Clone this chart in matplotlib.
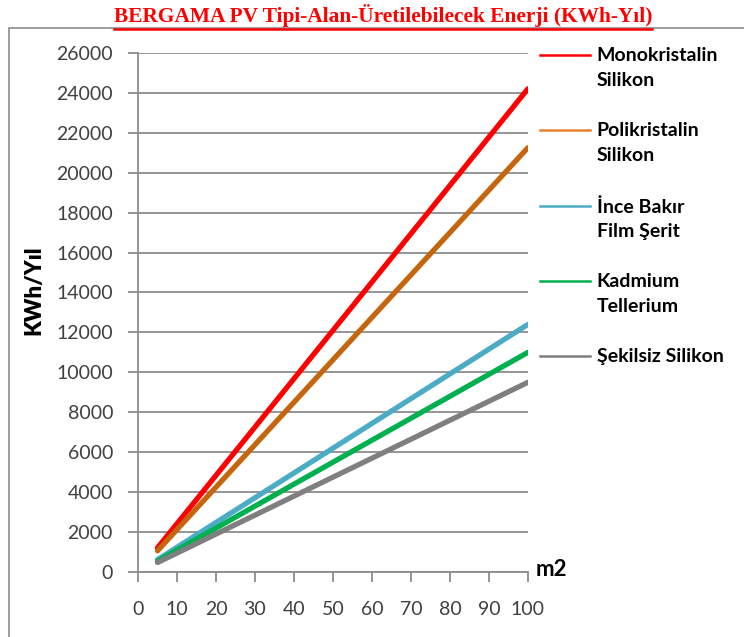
import matplotlib.pyplot as plt
from matplotlib.lines import Line2D
from matplotlib.patches import Rectangle

# alan (m2) ve panel tiplerine gore yillik enerji (KWh)
alan = [5, 10, 20, 30, 40, 50, 60, 70, 80, 90, 100]
monokristalin = [1210, 2420, 4840, 7260, 9680, 12100, 14520, 16940, 19360, 21780, 24200]
polikristalin = [1063, 2125, 4250, 6375, 8500, 10625, 12750, 14875, 17000, 19125, 21250]
ince_bakir = [620, 1240, 2480, 3720, 4960, 6200, 7440, 8680, 9920, 11160, 12400]
kadmium = [550, 1100, 2200, 3300, 4400, 5500, 6600, 7700, 8800, 9900, 11000]
sekilsiz = [475, 950, 1900, 2850, 3800, 4750, 5700, 6650, 7600, 8550, 9500]

seriler = [monokristalin, polikristalin, ince_bakir, kadmium, sekilsiz]
etiketler = ["Monokristalin\nSilikon", "Polikristalin\nSilikon", "İnce Bakır\nFilm Şerit",
             "Kadmium\nTellerium", "Şekilsiz Silikon"]
cizgi_renk = ["#ff0000", "#c5660e", "#4bacc6", "#00b050", "#7f7f7f"]
lejant_renk = ["#ff0000", "#e8822f", "#4bacc6", "#00b050", "#7f7f7f"]

y_ticks = list(range(0, 26001, 2000))
x_ticks = list(range(0, 101, 10))

plt.rcParams['font.family'] = ['Lato', 'DejaVu Sans']

fig = plt.figure(figsize=(7.44, 6.37), dpi=100)
ax = fig.add_axes([0.1855, 0.102, 0.524, 0.815])

for y, c in zip(seriler, cizgi_renk):
    ax.plot(alan, y, color=c, lw=3.8, solid_capstyle="round", zorder=3)

ax.set_xlim(0, 100)
ax.set_ylim(0, 26000)
ax.set_xticks(x_ticks)
ax.set_yticks(y_ticks)
ax.grid(axis="y", color="#8c8c8c", lw=1.3)
ax.set_axisbelow(True)
for s in ["top", "right"]:
    ax.spines[s].set_visible(False)
for s in ["left", "bottom"]:
    ax.spines[s].set_color("#8c8c8c")
    ax.spines[s].set_linewidth(1.3)
ax.tick_params(axis="x", length=7, width=1.3, color="#8c8c8c", pad=14,
               labelsize=14, labelcolor="#404040")
ax.tick_params(axis="y", length=7, width=1.3, color="#8c8c8c", pad=11,
               labelsize=14, labelcolor="#404040")

ax.text(1.02, 0.005, "m2", transform=ax.transAxes, fontsize=16, fontweight="bold",
        ha="left", va="center")
fig.text(0.045, 0.545, "KWh/Yıl", rotation=90, fontsize=16, fontweight="heavy",
         ha="center", va="center")

# lejant
for i, (lab, c) in enumerate(zip(etiketler, lejant_renk)):
    yy = 0.996 - i * 0.145
    ax.add_line(Line2D([1.031, 1.159], [yy, yy], transform=ax.transAxes, color=c,
                       lw=1.8, clip_on=False))
    ax.text(1.177, yy + 0.015, lab, transform=ax.transAxes, fontsize=14,
            fontweight="bold", ha="left", va="top", linespacing=1.55)

# cerceve
fig.add_artist(Rectangle((0.012, -0.01), 1.0, 0.966, transform=fig.transFigure,
                         fill=False, edgecolor="#8c8c8c", lw=1.2))

baslik = fig.text(0.515, 0.975, "BERGAMA PV Tipi-Alan-Üretilebilecek Enerji (KWh-Yıl)",
                  family="Liberation Serif", fontsize=15.4, fontweight="bold",
                  color="#ff0000", ha="center", va="center")
fig.canvas.draw()
bb = baslik.get_window_extent().transformed(fig.transFigure.inverted())
fig.add_artist(Line2D([bb.x0, bb.x1], [bb.y0 - 0.003, bb.y0 - 0.003],
                      transform=fig.transFigure, color="#ff0000", lw=1.8))

fig.savefig("out.png", dpi=100)
